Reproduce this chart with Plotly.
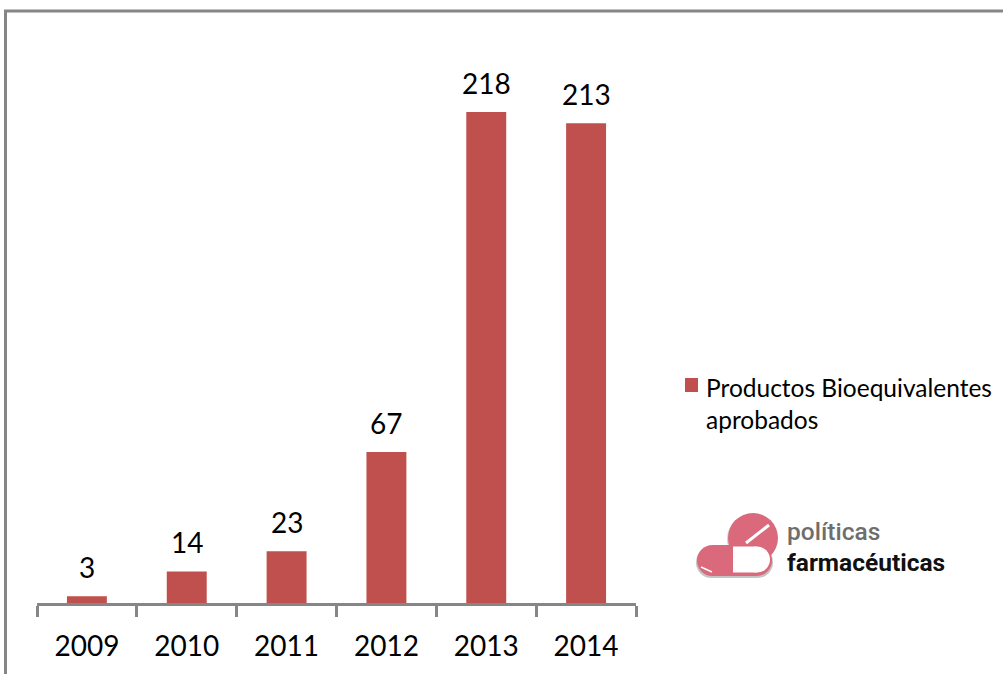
import plotly.graph_objects as go

years = ["2009", "2010", "2011", "2012", "2013", "2014"]
values = [3, 14, 23, 67, 218, 213]
series_name = "Productos Bioequivalentes<br>aprobados"
logo_top = "políticas"
logo_bottom = "farmacéuticas"

W, H = 1003, 674
L, R, T, B = 37, 636, 30, 603
FONT = "Lato, Carlito, Calibri, sans-serif"
LOGO_FONT = "Roboto, Liberation Sans, sans-serif"
RED = "#C0504D"
GREY = "#868686"
PINK = "#D9697B"


def px(x):
    return (x - L) / (R - L)


def py(y):
    return (B - y) / (B - T)


def circle(cx, cy, r, color):
    return dict(type="circle", xref="paper", yref="paper",
                x0=px(cx - r), x1=px(cx + r), y0=py(cy + r), y1=py(cy - r),
                fillcolor=color, line_width=0, layer="above")


def rect(x0, y0, x1, y1, color):
    return dict(type="rect", xref="paper", yref="paper",
                x0=px(x0), x1=px(x1), y0=py(y1), y1=py(y0),
                fillcolor=color, line_width=0, layer="above")


def line(x0, y0, x1, y1, color, width):
    return dict(type="line", xref="paper", yref="paper",
                x0=px(x0), x1=px(x1), y0=py(y0), y1=py(y1),
                line=dict(color=color, width=width), layer="above")


def capsule(x0, y0, x1, y1, color):
    r = (y1 - y0) / 2
    return [circle(x0 + r, y0 + r, r, color), circle(x1 - r, y0 + r, r, color),
            rect(x0 + r, y0, x1 - r, y1, color)]


fig = go.Figure(go.Bar(
    x=years, y=values, name=series_name, marker=dict(color=RED, line_width=0),
    showlegend=False, hoverinfo="x+y",
))

shapes = [
    line(5.5, 11, 5.5, 674, GREY, 3),
    line(4, 11, 1003, 11, GREY, 3),
    rect(685, 378, 698, 392, RED),
]
shapes += [circle(752, 539, 25, "#CFCFCF")]
shapes += capsule(696, 547, 773, 578, "#C4C4C4")
shapes += [circle(753, 538, 25, PINK)]
shapes += capsule(697, 545, 772, 576, PINK)
shapes += [rect(733, 546.5, 757, 572.5, "#FFFFFF"), circle(757, 559.5, 13, "#FFFFFF"),
           line(746, 543, 769, 525, "#FFFFFF", 3),
           line(701, 567, 712, 572, "#FFFFFF", 1.5)]

value_labels = [
    dict(text=str(v), x=i, y=v, xref="x", yref="y", yshift=29, xanchor="center",
         yanchor="middle", showarrow=False,
         font=dict(family=FONT, size=28, color="#000000"))
    for i, v in enumerate(values)
]

fig.update_layout(
    width=W, height=H,
    margin=dict(l=L, r=W - R, t=T, b=H - B, pad=0),
    paper_bgcolor="#FFFFFF", plot_bgcolor="#FFFFFF",
    bargap=0.6,
    shapes=shapes,
    showlegend=False,
    annotations=value_labels + [
        dict(text=series_name, xref="paper", yref="paper", x=px(704), y=py(403),
             xanchor="left", yanchor="middle", align="left", showarrow=False,
             font=dict(family=FONT, size=24.5, color="#000000")),
        dict(text=logo_top, xref="paper", yref="paper", x=px(785), y=py(531),
             xanchor="left", yanchor="middle", showarrow=False,
             font=dict(family=LOGO_FONT, size=24.5, weight=500, color="#6E6E6E")),
        dict(text=logo_bottom, xref="paper", yref="paper", x=px(785), y=py(562),
             xanchor="left", yanchor="middle", showarrow=False,
             font=dict(family=LOGO_FONT, size=24.5, weight=700, color="#111111")),
    ],
)
fig.update_xaxes(type="category", categoryorder="array", categoryarray=years,
                 range=[-0.5, len(years) - 0.5], automargin=False, tickangle=0,
                 tickson="boundaries", ticks="outside", ticklen=11,
                 tickwidth=2.5, tickcolor=GREY, showline=True, linecolor=GREY, linewidth=2.5,
                 showgrid=False, zeroline=False, ticklabelstandoff=17,
                 tickfont=dict(family=FONT, size=28, color="#000000"))
fig.update_yaxes(range=[0, 254.4], visible=False)

fig.write_html("out.html", post_script="document.body.style.margin='0';",
               config=dict(displayModeBar=False))
